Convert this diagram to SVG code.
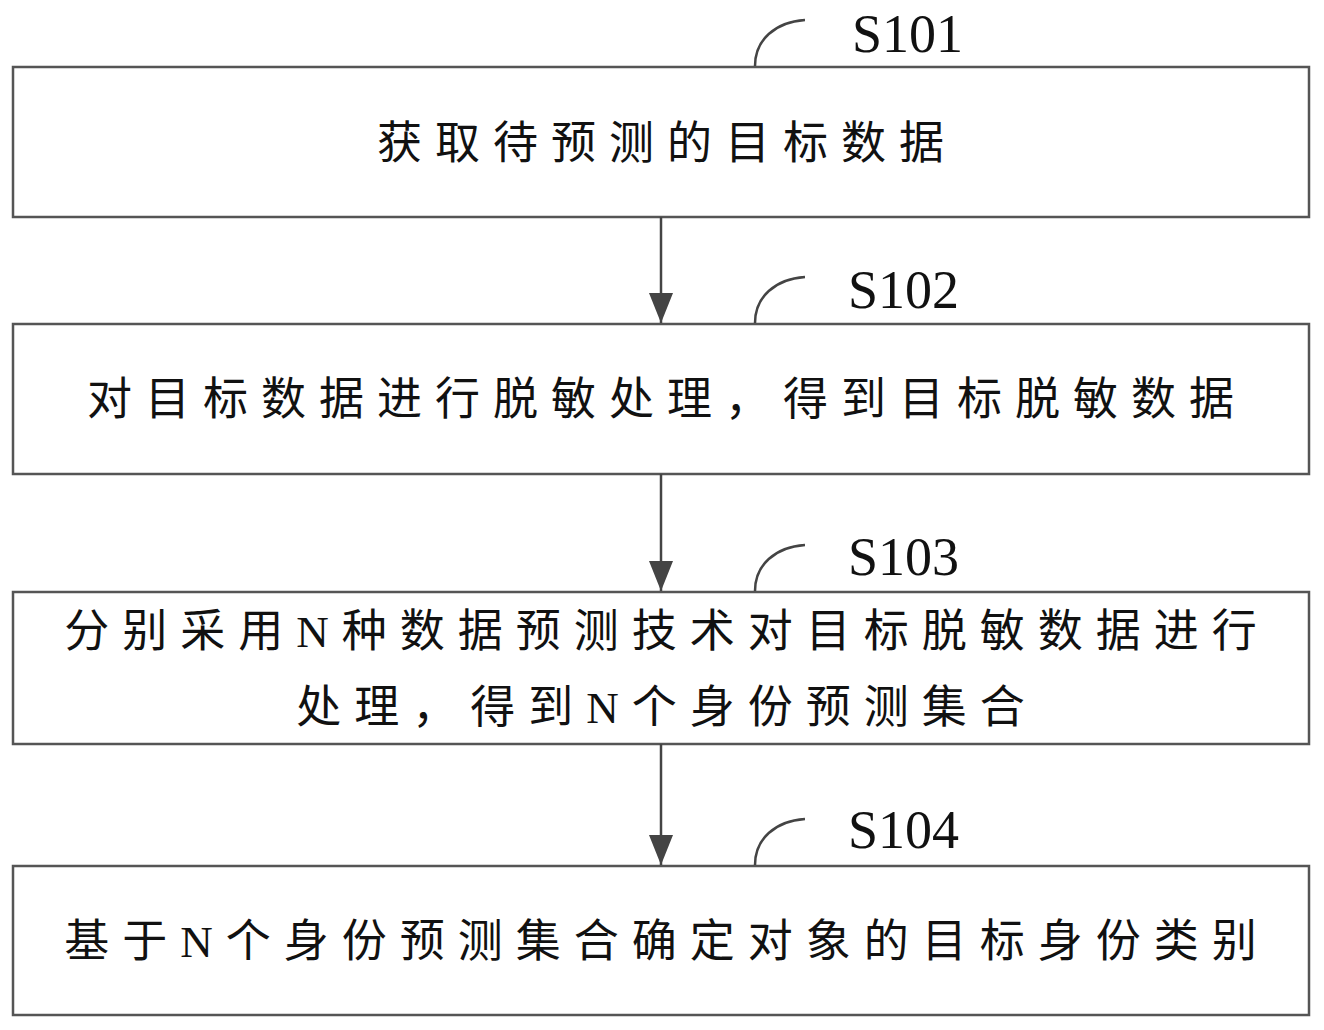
<svg xmlns="http://www.w3.org/2000/svg" width="1324" height="1030" viewBox="0 0 1324 1030">
<style>
.box{fill:#fff;stroke:#555;stroke-width:2.5}
.t{font-family:"Liberation Serif","Noto Sans CJK SC",serif;font-size:45px;letter-spacing:13px;fill:#111;text-anchor:middle}
.lbl{font-family:"Liberation Serif",serif;font-size:54px;fill:#111}
.cv{fill:none;stroke:#444;stroke-width:2.5}
.ln{stroke:#444;stroke-width:2.5}
</style>
<defs><marker id="a" viewBox="0 0 30 24" refX="30" refY="12" markerWidth="30" markerHeight="24" markerUnits="userSpaceOnUse" orient="auto"><path d="M0,0 L30,12 L0,24 Z" fill="#444"/></marker></defs>
<rect width="1324" height="1030" fill="#fff"/>
<g id="n1"><rect class="box" x="13" y="67" width="1296" height="150"/><text class="t" x="667" y="159">获取待预测的目标数据</text>
<path class="cv" d="M755,66 C755,40 775,22 805,20"/><text class="lbl" x="852" y="52">S101</text></g>
<g id="n2"><rect class="box" x="13" y="324" width="1296" height="150"/><text class="t" x="667" y="415">对目标数据进行脱敏处理，得到目标脱敏数据</text>
<path class="cv" d="M755,323 C755,297 775,279 805,277"/><text class="lbl" x="848" y="308">S102</text></g>
<g id="n3"><rect class="box" x="13" y="592" width="1296" height="152"/><text class="t" x="667" y="647">分别采用N种数据预测技术对目标脱敏数据进行</text><text class="t" x="667" y="723">处理，得到N个身份预测集合</text>
<path class="cv" d="M755,591 C755,565 775,547 805,545"/><text class="lbl" x="848" y="575">S103</text></g>
<g id="n4"><rect class="box" x="13" y="866" width="1296" height="149"/><text class="t" x="667" y="957">基于N个身份预测集合确定对象的目标身份类别</text>
<path class="cv" d="M755,865 C755,839 775,821 805,819"/><text class="lbl" x="848" y="848">S104</text></g>
<g id="edges">
<line class="ln" x1="661" y1="217" x2="661" y2="323" marker-end="url(#a)"/>
<line class="ln" x1="661" y1="474" x2="661" y2="591" marker-end="url(#a)"/>
<line class="ln" x1="661" y1="744" x2="661" y2="865" marker-end="url(#a)"/>
</g>
</svg>
